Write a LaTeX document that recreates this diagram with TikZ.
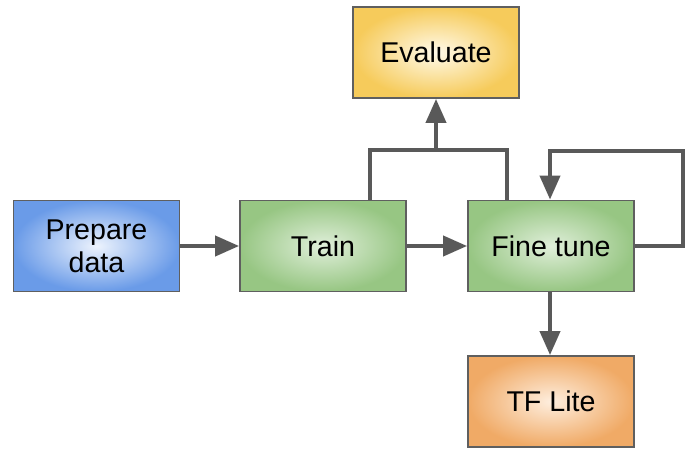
\documentclass[tikz,border=0pt]{standalone}
\usepackage{fontspec}
\setmainfont{Liberation Sans}
\usetikzlibrary{arrows.meta}
\definecolor{edge}{HTML}{595959}
\definecolor{bord}{HTML}{5F5F5F}
\definecolor{blueIn}{HTML}{EDF3FD}
\definecolor{blueOut}{HTML}{6A9BE8}
\definecolor{greenIn}{HTML}{E0EFDA}
\definecolor{greenOut}{HTML}{97C683}
\definecolor{yellowIn}{HTML}{FFFAEA}
\definecolor{yellowOut}{HTML}{F6CB5B}
\definecolor{orangeIn}{HTML}{FEEEDE}
\definecolor{orangeOut}{HTML}{F0AA66}
\tikzset{
  box/.style={draw=bord, line width=1.8pt, minimum width=166pt, minimum height=91pt,
    inner sep=0pt, align=center, font=\fontsize{28.6}{33}\selectfont},
  bluebox/.style={box, inner color=blueIn, outer color=blueOut},
  greenbox/.style={box, inner color=greenIn, outer color=greenOut},
  yellowbox/.style={box, inner color=yellowIn, outer color=yellowOut},
  orangebox/.style={box, inner color=orangeIn, outer color=orangeOut},
  conn/.style={draw=edge, line width=4pt},
  arr/.style={conn, -{Triangle[length=24pt,width=20pt]}},
}
\begin{document}
\begin{tikzpicture}[x=1pt,y=-1pt]
\useasboundingbox (0,0) rectangle (695,454);
\node[bluebox] (prep) at (96.5,246) {Prepare\\data};
\node[greenbox] (train) at (323,246) {Train};
\node[greenbox] (fine) at (551,246) {Fine tune};
\node[yellowbox] (eval) at (436,52.5) {Evaluate};
\node[orangebox] (tfl) at (551,401.5) {TF Lite};
\coordinate (j) at (436,150);
\coordinate (loopR) at (683,151);
\draw[arr] (prep.east) -- (train.west);
\draw[arr] (train.east) -- (fine.west);
\draw[conn] ([xshift=47pt]train.north) |- ([xshift=-44pt]fine.north |- j) -- ([xshift=-44pt]fine.north);
\draw[arr] (j) -- (eval.south);
\draw[arr] (fine.east) -| (loopR) -| ([xshift=-1pt]fine.north);
\draw[arr] ([xshift=-1pt]fine.south) -- ([xshift=-1pt]tfl.north);
\end{tikzpicture}
\end{document}
